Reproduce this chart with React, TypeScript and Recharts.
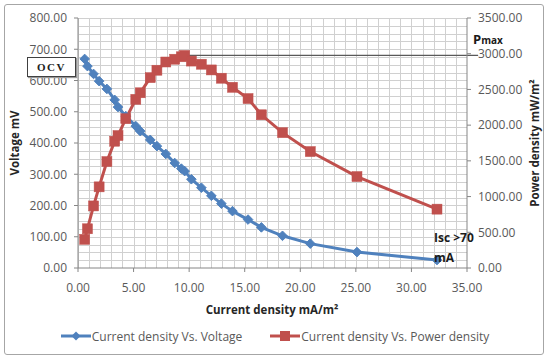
import React from 'react';
import {
  LineChart, Line, XAxis, YAxis, Legend, ReferenceLine, Label,
} from 'recharts';

// ---- data ----
const currentDensity = [0.6, 0.85, 1.4, 1.9, 2.6, 3.3, 3.6, 4.3, 5.2, 5.6, 6.5, 7.1, 7.9, 8.7, 9.3, 9.6, 10.2, 11.1, 12.0, 12.9, 13.9, 15.3, 16.5, 18.4, 20.9, 25.1, 32.3];
const voltage = [669, 646, 621, 598, 573, 538, 515, 486, 454, 438, 410, 390, 365, 336, 318, 310, 284, 257, 231, 206, 182, 155, 130, 103, 78, 51, 25.5];
const powerDensity = [401, 549, 869, 1136, 1490, 1775, 1854, 2090, 2361, 2453, 2665, 2769, 2884, 2923, 2957, 2976, 2897, 2853, 2773, 2657, 2530, 2372, 2145, 1895, 1630, 1280, 824];

const xTicks = [0, 5, 10, 15, 20, 25, 30, 35];
const leftTicks = [0, 100, 200, 300, 400, 500, 600, 700, 800];
const rightTicks = [0, 500, 1000, 1500, 2000, 2500, 3000, 3500];
const X_MAX = 35;
const Y_MAX = 800;
const X_MINOR_STEP = 1;
const Y_MINOR_STEP = 25;

const seriesNames = ['Current density Vs. Voltage', 'Current density Vs. Power density'];

const data = currentDensity.map((c, i) => ({ current: c, voltage: voltage[i], power: powerDensity[i] }));

const peakIdx = powerDensity.indexOf(Math.max(...powerDensity));
const peakX = currentDensity[peakIdx];
const peakP = powerDensity[peakIdx];

// chart layout
const W = 550;
const H = 360;
const MARGIN = { top: 18, right: 0, bottom: 14, left: 0 };
const LEFT_AXIS_W = 78;
const RIGHT_AXIS_W = 83;
const X_AXIS_H = 58;
const LEGEND_H = 20;
const PLOT = {
  left: MARGIN.left + LEFT_AXIS_W,
  top: MARGIN.top,
  width: W - MARGIN.left - MARGIN.right - LEFT_AXIS_W - RIGHT_AXIS_W,
  height: H - MARGIN.top - MARGIN.bottom - X_AXIS_H - LEGEND_H,
};
const xStepPx = (PLOT.width * X_MINOR_STEP) / X_MAX;
const yStepPx = (PLOT.height * Y_MINOR_STEP) / Y_MAX;

const BLUE = '#4f81bd';
const RED = '#c0504d';
const GRID = '#d0d0d0';
const FONT = '"Open Sans", "Liberation Sans", sans-serif';
const TXT = '#595959';

const fmt = (v: number) => v.toFixed(2);

const Diamond = (props: any) => {
  const { cx, cy, index } = props;
  if (cx == null || cy == null) return <g key={`d${index}`} />;
  const r = 4.8;
  return (
    <polygon key={`d${index}`} points={`${cx},${cy - r} ${cx + r},${cy} ${cx},${cy + r} ${cx - r},${cy}`} fill={BLUE} stroke={BLUE} strokeWidth={1} />
  );
};

const Square = (props: any) => {
  const { cx, cy, index } = props;
  if (cx == null || cy == null) return <g key={`s${index}`} />;
  const r = 5;
  return <rect key={`s${index}`} x={cx - r} y={cy - r} width={2 * r} height={2 * r} fill={RED} stroke={RED} strokeWidth={0.5} />;
};

const LegendContent = () => (
  <div style={{ height: LEGEND_H, display: 'flex', alignItems: 'center', justifyContent: 'center', fontFamily: FONT, fontSize: 12, color: TXT }}>
    <svg width={30} height={12} style={{ display: 'block' }}>
      <line x1={0} y1={6} x2={30} y2={6} stroke={BLUE} strokeWidth={3} />
      <polygon points="15,1.5 19.5,6 15,10.5 10.5,6" fill={BLUE} />
    </svg>
    <span style={{ marginLeft: 1 }}>{seriesNames[0]}</span>
    <svg width={30} height={12} style={{ display: 'block', marginLeft: 28 }}>
      <line x1={0} y1={6} x2={30} y2={6} stroke={RED} strokeWidth={3} />
      <rect x={10} y={1} width={10} height={10} fill={RED} />
    </svg>
    <span style={{ marginLeft: 1 }}>{seriesNames[1]}</span>
  </div>
);

const titleStyle = { fontFamily: FONT, fontSize: 11.5, fontWeight: 700, fill: '#262626' } as const;

export default function App() {
  return (
    <div style={{ position: 'absolute', left: 0, top: 0, width: W, height: H, background: '#fff' }}>
      <div style={{ position: 'absolute', left: 4, top: 4, width: 538, height: 349, border: '1.5px solid #a6a6a6', borderRadius: 3 }} />
      <div style={{
        position: 'absolute', left: PLOT.left, top: PLOT.top, width: PLOT.width, height: PLOT.height,
        backgroundImage: `repeating-linear-gradient(to right, ${GRID} 0px, ${GRID} 1px, transparent 1px, transparent ${xStepPx}px), repeating-linear-gradient(to bottom, ${GRID} 0px, ${GRID} 1px, transparent 1px, transparent ${yStepPx}px)`,
      }} />
      <LineChart width={W} height={H} data={data} margin={MARGIN}>
        <XAxis
          type="number" dataKey="current" domain={[0, X_MAX]} ticks={xTicks} tickFormatter={fmt}
          height={X_AXIS_H} tickSize={4} tickMargin={11} interval={0}
          stroke="#868686" tick={{ fill: TXT, fontFamily: FONT, fontSize: 12 }}
        >
          <Label content={() => (
            <text x={272} y={314} textAnchor="middle" style={titleStyle}>Current density mA/m²</text>
          )} />
        </XAxis>
        <YAxis
          yAxisId="left" type="number" domain={[0, Y_MAX]} ticks={leftTicks} tickFormatter={fmt}
          width={LEFT_AXIS_W} tickSize={4} tickMargin={7} interval={0}
          stroke="#868686" tick={{ fill: TXT, fontFamily: FONT, fontSize: 12 }}
        >
          <Label content={() => (
            <text x={19} y={143} textAnchor="middle" transform="rotate(-90 19 143)" style={titleStyle}>Voltage mV</text>
          )} />
        </YAxis>
        <YAxis
          yAxisId="right" orientation="right" type="number" domain={[0, 3500]} ticks={rightTicks} tickFormatter={fmt}
          width={RIGHT_AXIS_W} tickSize={4} tickMargin={7} interval={0}
          stroke="#868686" tick={{ fill: TXT, fontFamily: FONT, fontSize: 12 }}
        >
          <Label content={() => (
            <text x={539} y={143} textAnchor="middle" transform="rotate(-90 539 143)" style={titleStyle}>Power density mW/m²</text>
          )} />
        </YAxis>
        <Legend verticalAlign="bottom" height={LEGEND_H} content={<LegendContent />} />
        <Line yAxisId="left" dataKey="voltage" name={seriesNames[0]} stroke={BLUE} strokeWidth={3} dot={Diamond} activeDot={false} isAnimationActive={false} />
        <Line yAxisId="right" dataKey="power" name={seriesNames[1]} stroke={RED} strokeWidth={3} dot={Square} activeDot={false} isAnimationActive={false} />
        <ReferenceLine
          yAxisId="right" ifOverflow="visible" stroke="#595959" strokeWidth={1.2}
          segment={[{ x: peakX, y: peakP }, { x: 36, y: peakP }]}
        />
      </LineChart>
      <svg width={W} height={H} style={{ position: 'absolute', left: 0, top: 0, pointerEvents: 'none' }}>
        <text x={473} y={44} style={{ fontFamily: FONT, fontWeight: 700, fill: '#1a1a1a' }}>
          <tspan fontSize={13}>P</tspan><tspan fontSize={10}>max</tspan>
        </text>
        <text x={434} y={242} style={{ fontFamily: FONT, fontWeight: 700, fontSize: 12, fill: '#1a1a1a' }}>Isc &gt;70</text>
        <text x={434} y={262} style={{ fontFamily: FONT, fontWeight: 700, fontSize: 12, fill: '#1a1a1a' }}>mA</text>
      </svg>
      <div style={{
        position: 'absolute', left: 27, top: 57, width: 47, height: 18, border: '1px solid #404040', background: '#fff',
        boxShadow: '1px 1px 1px #999', display: 'flex', alignItems: 'center', justifyContent: 'center',
        fontFamily: '"Liberation Serif", "DejaVu Serif", serif', fontWeight: 700, fontSize: 11, letterSpacing: 1.5, color: '#222',
      }}>OCV</div>
    </div>
  );
}
